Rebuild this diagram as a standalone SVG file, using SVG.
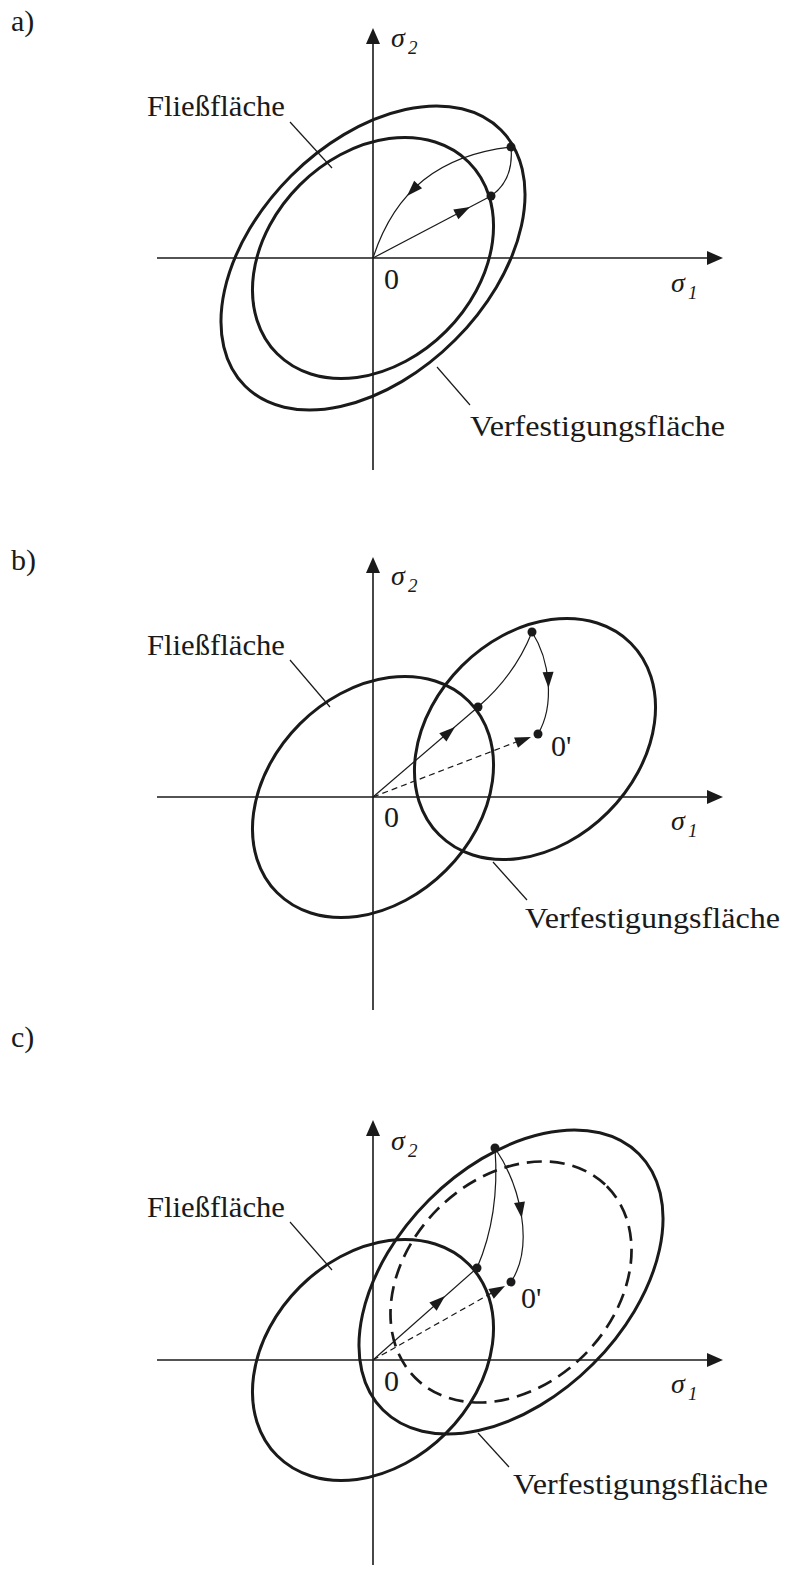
<svg xmlns="http://www.w3.org/2000/svg" xmlns:xlink="http://www.w3.org/1999/xlink" width="786" height="1570" viewBox="0 0 786 1570">
<style>
.ax{stroke:#1a1a1a;stroke-width:1.6;fill:none}
.el{stroke:#1a1a1a;stroke-width:3;fill:none}
.eld{stroke:#1a1a1a;stroke-width:2.7;fill:none;stroke-dasharray:15 8}
.th{stroke:#1a1a1a;stroke-width:1.2;fill:none}
.ds{stroke:#1a1a1a;stroke-width:1.2;fill:none;stroke-dasharray:6 4}
.ld{stroke:#1a1a1a;stroke-width:1.2}
.t{font-family:"Liberation Serif","Times New Roman",serif;font-size:30px;fill:#1a1a1a}
.s{font-family:"Liberation Serif","Times New Roman",serif;font-size:28px;font-style:italic;fill:#1a1a1a}
.sub{font-family:"Liberation Serif","Times New Roman",serif;font-size:19px;font-style:italic;fill:#1a1a1a}
.dot{fill:#1a1a1a}
</style>
<defs>
<path id="axh" d="M0,0 L-16,-7 L-16,7 Z" fill="#1a1a1a"/>
<path id="ah" d="M0,0 L-16,-5.5 L-16,5.5 Z" fill="#1a1a1a"/>
<ellipse id="ef" cx="0" cy="0" rx="135.5" ry="103.4" transform="rotate(-45)"/>
<ellipse id="ev" cx="0" cy="0" rx="181" ry="116" transform="rotate(-45)"/>
</defs>

<!-- Panel a -->
<g id="panel-a">
<text class="t" x="11" y="31">a)</text>
<g id="a-axes">
<line class="ax" x1="373" y1="470" x2="373" y2="36"/>
<use href="#axh" transform="translate(373,28) rotate(-90)"/>
<line class="ax" x1="157" y1="258" x2="715" y2="258"/>
<use href="#axh" transform="translate(723,258)"/>
<text class="s" x="391" y="47">σ</text><text class="sub" x="408" y="54">2</text>
<text class="s" x="671" y="292">σ</text><text class="sub" x="688" y="299">1</text>
<text class="t" x="384" y="289">0</text>
</g>
<g id="a-fliess"><use href="#ef" class="el" transform="translate(373,258)"/></g>
<g id="a-verf"><use href="#ev" class="el" transform="translate(373,258)"/></g>
<g id="a-labels">
<text class="t" x="147" y="116" textLength="138" lengthAdjust="spacingAndGlyphs">Fließfläche</text>
<line class="ld" x1="290" y1="122" x2="332" y2="168"/>
<text class="t" x="470" y="436" textLength="255" lengthAdjust="spacingAndGlyphs">Verfestigungsfläche</text>
<line class="ld" x1="437" y1="367" x2="470" y2="405"/>
</g>
<g id="a-connectors">
<line class="th" x1="373" y1="258" x2="491" y2="196"/>
<use href="#ah" transform="translate(470,207) rotate(-27.7)"/>
<path class="th" d="M491,196 Q514,180 511,147"/>
<path class="th" d="M511,147 C440,155 395,190 373,258"/>
<use href="#ah" transform="translate(407,196) rotate(134)"/>
</g>
<circle class="dot" cx="491" cy="196" r="4.5"/>
<circle class="dot" cx="511" cy="147" r="4.5"/>
</g>

<!-- Panel b -->
<g id="panel-b">
<text class="t" x="11" y="570">b)</text>
<g id="b-axes">
<line class="ax" x1="373" y1="1010" x2="373" y2="565"/>
<use href="#axh" transform="translate(373,557) rotate(-90)"/>
<line class="ax" x1="157" y1="797" x2="715" y2="797"/>
<use href="#axh" transform="translate(723,797)"/>
<text class="s" x="391" y="585">σ</text><text class="sub" x="408" y="592">2</text>
<text class="s" x="671" y="830">σ</text><text class="sub" x="688" y="837">1</text>
<text class="t" x="384" y="827">0</text>
<text class="t" x="551" y="756">0'</text>
</g>
<g id="b-fliess"><use href="#ef" class="el" transform="translate(373,797)"/></g>
<g id="b-verf"><use href="#ef" class="el" transform="translate(535,739)"/></g>
<g id="b-labels">
<text class="t" x="147" y="655" textLength="138" lengthAdjust="spacingAndGlyphs">Fließfläche</text>
<line class="ld" x1="290" y1="660" x2="330" y2="707"/>
<text class="t" x="525" y="928" textLength="255" lengthAdjust="spacingAndGlyphs">Verfestigungsfläche</text>
<line class="ld" x1="493" y1="862" x2="527" y2="900"/>
</g>
<g id="b-connectors">
<line class="th" x1="373" y1="797" x2="478" y2="707"/>
<use href="#ah" transform="translate(455,727) rotate(-40.6)"/>
<path class="th" d="M478,707 Q515,675 532,632"/>
<path class="th" d="M532,632 C550,660 555,705 538,734"/>
<use href="#ah" transform="translate(548.5,688) rotate(88.5)"/>
<line class="ds" x1="373" y1="797" x2="524" y2="739"/>
<use href="#ah" transform="translate(531,737) rotate(-20.9)"/>
</g>
<circle class="dot" cx="478" cy="707" r="4.5"/>
<circle class="dot" cx="532" cy="632" r="4.5"/>
<circle class="dot" cx="538" cy="734" r="4.5"/>
</g>

<!-- Panel c -->
<g id="panel-c">
<text class="t" x="11" y="1047">c)</text>
<g id="c-axes">
<line class="ax" x1="373" y1="1565" x2="373" y2="1128"/>
<use href="#axh" transform="translate(373,1120) rotate(-90)"/>
<line class="ax" x1="157" y1="1360" x2="715" y2="1360"/>
<use href="#axh" transform="translate(723,1360)"/>
<text class="s" x="391" y="1150">σ</text><text class="sub" x="408" y="1157">2</text>
<text class="s" x="671" y="1393">σ</text><text class="sub" x="688" y="1400">1</text>
<text class="t" x="384" y="1391">0</text>
<text class="t" x="521" y="1308">0'</text>
</g>
<g id="c-fliess"><use href="#ef" class="el" transform="translate(373,1360)"/></g>
<g id="c-verf"><use href="#ev" class="el" transform="translate(511,1282)"/></g>
<g id="c-shifted"><use href="#ef" class="eld" transform="translate(511,1282)"/></g>
<g id="c-labels">
<text class="t" x="147" y="1217" textLength="138" lengthAdjust="spacingAndGlyphs">Fließfläche</text>
<line class="ld" x1="290" y1="1222" x2="332" y2="1270"/>
<text class="t" x="513" y="1494" textLength="255" lengthAdjust="spacingAndGlyphs">Verfestigungsfläche</text>
<line class="ld" x1="478" y1="1433" x2="509" y2="1467"/>
</g>
<g id="c-connectors">
<line class="th" x1="373" y1="1360" x2="477" y2="1268"/>
<use href="#ah" transform="translate(445,1296) rotate(-41.5)"/>
<path class="th" d="M477,1268 Q500,1215 495,1148"/>
<path class="th" d="M495,1148 C520,1185 535,1245 511,1282"/>
<use href="#ah" transform="translate(521.7,1218) rotate(82)"/>
<line class="ds" x1="373" y1="1360" x2="497" y2="1290"/>
<use href="#ah" transform="translate(505,1286) rotate(-29.5)"/>
</g>
<circle class="dot" cx="477" cy="1268" r="4.5"/>
<circle class="dot" cx="495" cy="1148" r="4.5"/>
<circle class="dot" cx="511" cy="1282" r="4.5"/>
</g>
</svg>
